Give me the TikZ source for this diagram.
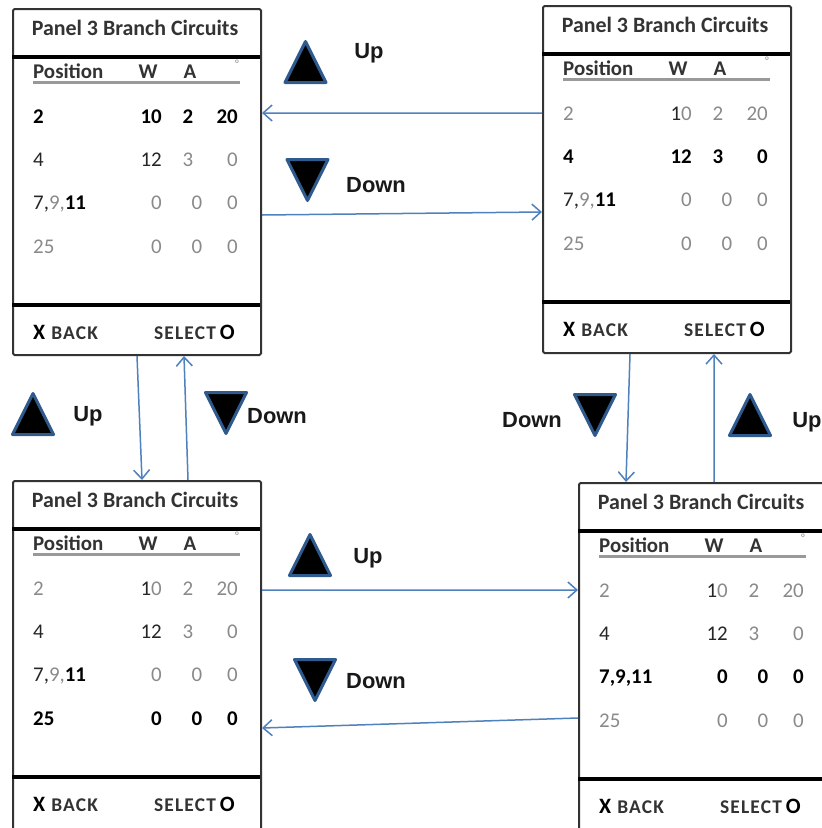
\documentclass[tikz,border=0pt]{standalone}
\usepackage{fontspec}
\setmainfont{Carlito}
\newfontfamily\arialfont{Liberation Sans}
\usetikzlibrary{arrows.meta}
\definecolor{arrowblue}{HTML}{4F81BD}
\definecolor{tribord}{HTML}{2E5A8E}
\definecolor{txtgray}{HTML}{8A8A8A}
\definecolor{txtdark}{HTML}{333333}
\newcommand\gtx[1]{\textcolor{txtgray}{#1}}
\newcommand\dtx[1]{\textcolor{black!85}{#1}}
\newcommand\btx[1]{\textcolor{black}{\bfseries #1}}
\newcommand\smallcapsword[1]{{\fontsize{19.5}{22}\selectfont\bfseries\addfontfeature{LetterSpace=6}\color{txtdark}#1}}
\tikzset{
  frame/.style={draw=black!80, line width=2bp, rounded corners=1.5bp, inner sep=0pt, anchor=north west},
  sepline/.style={line width=4bp, black},
  cell/.style={inner sep=0pt, font=\fontsize{21}{25}\selectfont},
  lblcell/.style={cell, anchor=base west},
  rcell/.style={cell, anchor=base east},
  ccell/.style={cell, anchor=base},
  conn/.style={draw=arrowblue, line width=1.5bp, -{Straight Barb[length=9bp,width=16bp]}},
  keytri/.style={fill=black, draw=tribord, line width=3bp, line join=round},
  keylabel/.style={inner sep=0pt, font=\arialfont\bfseries\fontsize{22}{26}\selectfont, text=black!90},
  pics/uptri/.style={code={\draw[keytri] (-20.5,20.5) -- (0,-20.5) -- (20.5,20.5) -- cycle;}},
  pics/downtri/.style={code={\draw[keytri] (-20.5,-20.5) -- (0,20.5) -- (20.5,-20.5) -- cycle;}},
}
% #1 name, #2 left, #3 top, #4 selected row, #5 height, #6 width
\newcommand\screenpanel[6]{%
\begin{scope}[shift={(#2,#3)}]
  \node[frame, minimum width=#6bp, minimum height=#5bp] (#1) at (0,0) {};
  \draw[sepline] (0,49) -- (#6,49);
  \draw[sepline] (0,297) -- (#6,297);
  \node[ccell, text=txtdark, font=\fontsize{22}{26}\selectfont] (#1-title) at (123,27) {\bfseries Panel 3 Branch Circuits};
  \node[lblcell, text=txtdark] (#1-hpos) at (21,70) {\bfseries Position};
  \node[ccell, text=txtdark] (#1-hw) at (136,70) {\bfseries W};
  \node[ccell, text=txtdark] (#1-ha) at (178,70) {\bfseries A};
  \node[inner sep=0pt, text=txtgray, font=\fontsize{11}{13}\selectfont] (#1-hdeg) at (225,56) {°};
  \draw[gray!80, line width=2.2bp] (21,74.5) -- (228,74.5);
  % row 1
  \node[lblcell] (#1-r1l) at (21,115) {\ifnum#4=1 \btx{2}\else\gtx{2}\fi};
  \node[rcell] (#1-r1w) at (150,115) {\ifnum#4=1 \btx{10}\else\dtx{1}\gtx{0}\fi};
  \node[ccell] (#1-r1a) at (176,115) {\ifnum#4=1 \btx{2}\else\gtx{2}\fi};
  \node[rcell] (#1-r1d) at (226,115) {\ifnum#4=1 \btx{20}\else\gtx{20}\fi};
  % row 2
  \node[lblcell] (#1-r2l) at (21,158) {\ifnum#4=2 \btx{4}\else\dtx{4}\fi};
  \node[rcell] (#1-r2w) at (150,158) {\ifnum#4=2 \btx{12}\else\dtx{12}\fi};
  \node[ccell] (#1-r2a) at (176,158) {\ifnum#4=2 \btx{3}\else\gtx{3}\fi};
  \node[rcell] (#1-r2d) at (226,158) {\ifnum#4=2 \btx{0}\else\gtx{0}\fi};
  % row 3
  \node[lblcell] (#1-r3l) at (21,201) {\ifnum#4=3 \btx{7,9,11}\else\dtx{7,}\gtx{9,}\btx{11}\fi};
  \node[rcell] (#1-r3w) at (150,201) {\ifnum#4=3 \btx{0}\else\gtx{0}\fi};
  \node[ccell] (#1-r3a) at (185,201) {\ifnum#4=3 \btx{0}\else\gtx{0}\fi};
  \node[rcell] (#1-r3d) at (226,201) {\ifnum#4=3 \btx{0}\else\gtx{0}\fi};
  % row 4
  \node[lblcell] (#1-r4l) at (21,245) {\ifnum#4=4 \btx{25}\else\gtx{25}\fi};
  \node[rcell] (#1-r4w) at (150,245) {\ifnum#4=4 \btx{0}\else\gtx{0}\fi};
  \node[ccell] (#1-r4a) at (185,245) {\ifnum#4=4 \btx{0}\else\gtx{0}\fi};
  \node[rcell] (#1-r4d) at (226,245) {\ifnum#4=4 \btx{0}\else\gtx{0}\fi};
  % footer
  \node[lblcell] (#1-back) at (21,331) {{\fontsize{22}{25}\selectfont\btx{X}}\hspace{6bp}\smallcapsword{BACK}};
  \node[rcell] (#1-select) at (223,331) {\smallcapsword{SELECT}\hspace{4bp}{\fontsize{22}{25}\selectfont\btx{O}}};
\end{scope}}
\begin{document}
\begin{tikzpicture}[x=1bp, y=-1bp]
  \useasboundingbox (0,0) rectangle (822,828);
  \clip (0,0) rectangle (822,828);
  \fill[white] (0,0) rectangle (822,828);

  \screenpanel{TL}{12}{8}{1}{346}{248}
  \screenpanel{TR}{542}{5}{2}{347}{248}
  \screenpanel{BL}{12}{480}{4}{370}{248}
  \screenpanel{BR}{578}{482}{3}{370}{270}

  % connectors
  \draw[conn] ([yshift=-108bp]TR.north west) -- ([yshift=-105bp]TL.north east);
  \draw[conn] ([yshift=-207bp]TL.north east) -- ([yshift=-207bp]TR.north west);
  \draw[conn] ([xshift=125bp]TL.south west) -- ([xshift=130bp]BL.north west);
  \draw[conn] ([xshift=176bp]BL.north west) -- ([xshift=172bp]TL.south west);
  \draw[conn] ([xshift=88bp]TR.south west) -- ([xshift=48bp]BR.north west);
  \draw[conn] ([xshift=136bp]BR.north west) -- ([xshift=172bp]TR.south west);
  \draw[conn] ([yshift=-110bp]BL.north east) -- ([yshift=-108bp]BR.north west);
  \draw[conn] ([yshift=-236bp]BR.north west) -- ([yshift=-248bp]BL.north east);

  % key icons and labels
  \pic at (305.5,62) {uptri};
  \node[keylabel] (kup1) at (369,53) {Up};
  \pic at (307.5,180) {downtri};
  \node[keylabel] (kdown1) at (376,185) {Down};

  \pic at (33,414) {uptri};
  \node[keylabel] (kup2) at (88,416) {Up};
  \pic at (226,413) {downtri};
  \node[keylabel] (kdown2) at (277,416) {Down};

  \node[keylabel] (kdown3) at (532,420) {Down};
  \pic at (595,415) {downtri};
  \pic at (750,415) {uptri};
  \node[keylabel] (kup3) at (807,422) {Up};

  \pic at (310,555) {uptri};
  \node[keylabel] (kup4) at (368,558) {Up};
  \pic at (315,680) {downtri};
  \node[keylabel] (kdown4) at (376,681) {Down};
\end{tikzpicture}
\end{document}
